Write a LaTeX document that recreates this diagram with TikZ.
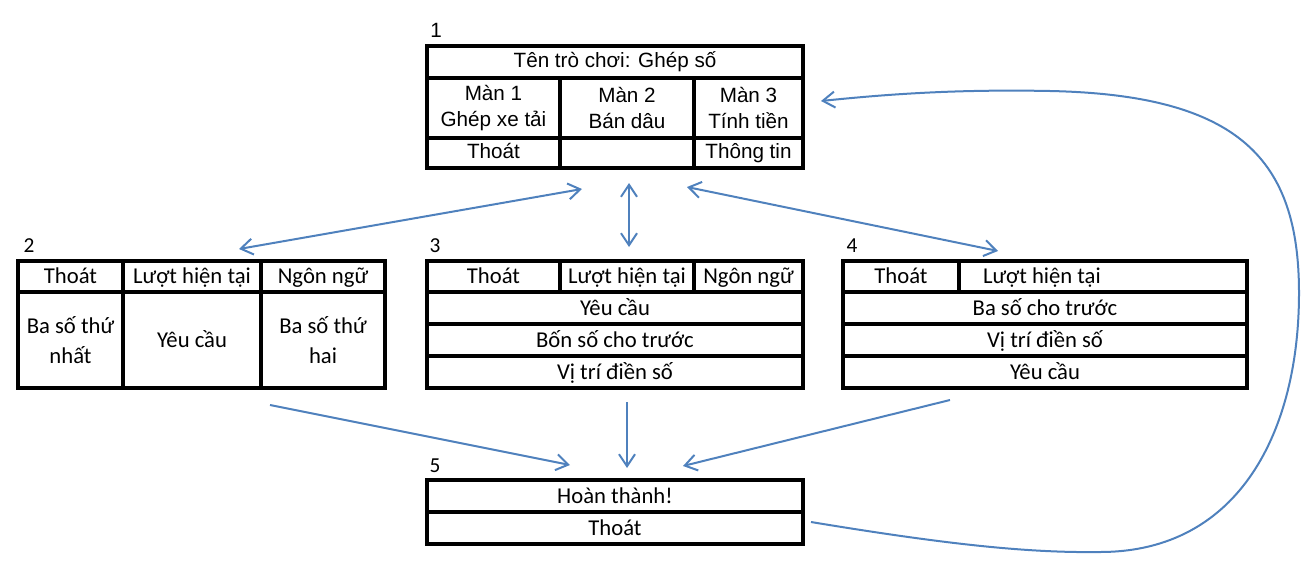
\documentclass[tikz,border=0pt]{standalone}
\usepackage{fontspec}
\setmainfont{Carlito}
\newfontfamily\marial{Liberation Sans}
\usetikzlibrary{arrows.meta,calc}
\def\px{0.75pt}
\def\mline{2.3pt}
\definecolor{mlinkcolor}{HTML}{4F81BD}
\tikzset{
	mcellbox/.style={draw, line width=\mline, inner sep=0pt, outer sep=0pt, align=center, text height=13pt, text depth=2.5pt, font=\fontsize{17}{22}\selectfont},
	mtitle/.style={text height=11pt, text depth=3pt, font=\marial\fontsize{15.5}{20}\selectfont},
	mtwo/.style={text height=, text depth=},
	mnum/.style={inner sep=0pt, font=\fontsize{16}{19}\selectfont},
	mtip/.tip={Straight Barb[length=9pt,width=12pt]},
	mlink/.style={draw=mlinkcolor, line width=1.5pt, -mtip},
	mdlink/.style={draw=mlinkcolor, line width=1.5pt, mtip-mtip},
}
% cell from (x0,y0) to (x1,y1), in pixels of the page
\newcommand{\mcell}[7][]{\node[mcellbox, minimum width={(#5-#3)*\px}, minimum height={(#6-#4)*\px}, #1] (#2) at ({(#3+#5)/2},{(#4+#6)/2}) {#7};}
\begin{document}
\begin{tikzpicture}[x=\px, y=-\px]
		\useasboundingbox (0,0) rectangle (1311,579);
		% 1: menu
		\node[mnum, font=\marial\fontsize{15.5}{19}\selectfont] (n1) at (436,30) {1};
		\mcell[mtitle]{t1name}{427}{46}{803}{78}{Tên trò chơi: Ghép số}
		\mcell[mtitle, mtwo]{t1lvA}{427}{78}{560}{138}{Màn 1\\Ghép xe tải}
		\mcell[mtitle, mtwo]{t1lvB}{560}{78}{694}{138}{Màn 2\\Bán dâu}
		\mcell[mtitle, mtwo]{t1lvC}{694}{78}{803}{138}{Màn 3\\Tính tiền}
		\mcell[mtitle]{t1quit}{427}{138}{560}{168}{Thoát}
		\mcell[mtitle]{t1gap}{560}{138}{694}{168}{}
		\mcell[mtitle]{t1info}{694}{138}{803}{168}{Thông tin}
		% 2: level 1
		\node[mnum] (n2) at (29,246) {2};
		\mcell{s2quit}{18}{261}{123}{292}{Thoát}
		\mcell{s2turn}{123}{261}{261}{292}{Lượt hiện tại}
		\mcell{s2lang}{261}{261}{385}{292}{Ngôn ngữ}
		\mcell[mtwo]{s2first}{18}{292}{123}{388}{Ba số thứ\\nhất}
		\mcell{s2ask}{123}{292}{261}{388}{Yêu cầu}
		\mcell[mtwo]{s2second}{261}{292}{385}{388}{Ba số thứ\\hai}
		% 3: level 2
		\node[mnum] (n3) at (435,246) {3};
		\mcell{s3quit}{427}{261}{560}{292}{Thoát}
		\mcell{s3turn}{560}{261}{694}{292}{Lượt hiện tại}
		\mcell{s3lang}{694}{261}{803}{292}{Ngôn ngữ}
		\mcell{s3ask}{427}{292}{803}{324}{Yêu cầu}
		\mcell{s3four}{427}{324}{803}{356}{Bốn số cho trước}
		\mcell{s3place}{427}{356}{803}{388}{Vị trí điền số}
		% 4: level 3
		\node[mnum] (n4) at (852,246) {4};
		\mcell{s4quit}{843}{261}{959}{292}{Thoát}
		\mcell[text width=180pt, align=flush left]{s4turn}{959}{261}{1247}{292}{Lượt hiện tại}
		\mcell{s4three}{843}{292}{1247}{324}{Ba số cho trước}
		\mcell{s4place}{843}{324}{1247}{356}{Vị trí điền số}
		\mcell{s4ask}{843}{356}{1247}{388}{Yêu cầu}
		% 5: finish
		\node[mnum] (n5) at (435,466) {5};
		\mcell{f5done}{427}{480}{803}{512}{Hoàn thành!}
		\mcell{f5quit}{427}{512}{803}{544}{Thoát}
		% arrow ends
		\coordinate (a1top) at (582,189); \coordinate (a1bot) at (239,249);
		\coordinate (a2top) at (629,183); \coordinate (a2bot) at (629,247);
		\coordinate (a3top) at (687,187); \coordinate (a3bot) at (998,251);
		\coordinate (a4from) at (270,405); \coordinate (a4to) at (570,465);
		\coordinate (a5from) at (627,402); \coordinate (a5to) at (627,468);
		\coordinate (a6from) at (950,400); \coordinate (a6to) at (683,466);
		\coordinate (cfrom) at (811,522); \coordinate (cto) at (821,101);
		\draw[mdlink] (a1top) -- (a1bot);
		\draw[mdlink] (a2top) -- (a2bot);
		\draw[mdlink] (a3top) -- (a3bot);
		\draw[mlink] (a4from) -- (a4to);
		\draw[mlink] (a5from) -- (a5to);
		\draw[mlink] (a6from) -- (a6to);
		% back to the menu
		\draw[mlink] (cfrom) .. controls (950,545) and (1030,553) .. (1100,552)
			.. controls (1240,552) and (1299,430) .. (1299,293)
			.. controls (1299,160) and (1240,95) .. (1050,91)
			.. controls (950,89) and (880,95) .. (cto);
	\end{tikzpicture}
\end{document}
